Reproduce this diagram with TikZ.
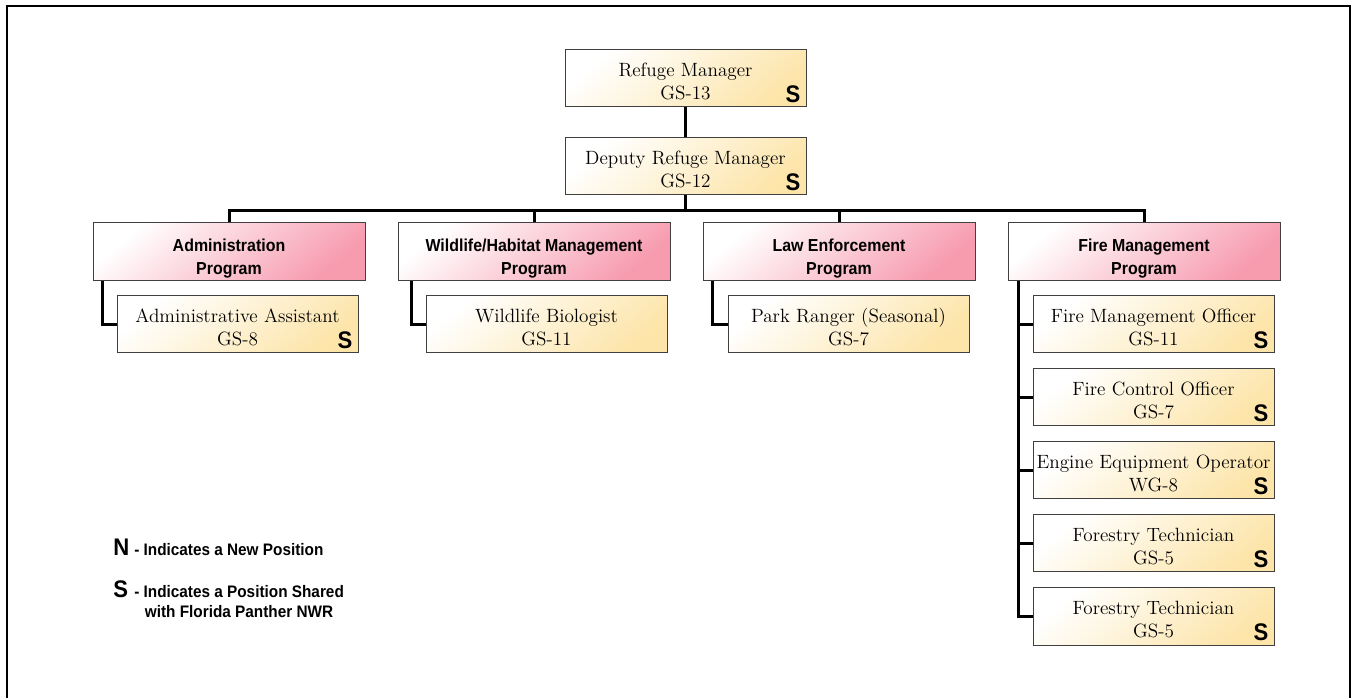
\documentclass[tikz,border=0pt]{standalone}
\usepackage{fontspec}
\usepackage{tikz}
\usetikzlibrary{calc,positioning}
\newfontfamily\condsans[FakeStretch=0.92]{Liberation Sans}
\definecolor{postyellow}{RGB}{253,229,170}
\definecolor{progpink}{RGB}{247,155,175}
\tikzset{
    post/.style={draw=black!75, line width=0.75pt, inner sep=0pt,
        minimum width=180.75pt, minimum height=42.75pt, align=center,
        text height=31.5pt, text depth=0pt,
        top color=white, bottom color=postyellow, shading angle=40,
        font=\fontsize{14.4}{17.25}\selectfont},
    program/.style={post, minimum width=204pt, minimum height=43.5pt,
        text height=34pt, text depth=0pt,
        top color=white, bottom color=progpink, shading angle=40,
        font=\condsans\bfseries\fontsize{13}{17.25}\selectfont},
    conn/.style={line width=2.25pt, black},
    smark/.style={inner sep=0pt, font=\condsans\bfseries\fontsize{18}{18}\selectfont},
    keytext/.style={inner sep=0pt, align=left, font=\condsans\bfseries\fontsize{12.5}{15}\selectfont},
}
\begin{document}
\begin{tikzpicture}[x=0.75pt, y=-0.75pt]
        \useasboundingbox (0,0) rectangle (1354,698);
        \draw[line width=1.5pt] (7,698) -- (7,6) -- (1350,6) -- (1350,698);
        % top of the chart
        \node[post] (rm) at (685.5,78.5) {Refuge Manager\\GS-13};
        \node[post] (dm) [below=22.5pt of rm] {Deputy Refuge Manager\\GS-12};
        \coordinate (bus) at ($(dm.south)+(0,15)$);
        % programs
        \node[program] (adm) at (229,252) {Administration\\Program};
        \node[program] (wild) [right=24pt of adm] {Wildlife/Habitat Management\\Program};
        \node[program] (law) [right=24pt of wild] {Law Enforcement\\Program};
        \node[program] (fire) [right=24pt of law] {Fire Management\\Program};
        % positions
        \node[post] (aa) [below right=10.5pt and 18pt of adm.south west] {Administrative Assistant\\GS-8};
        \node[post] (wb) [below right=10.5pt and 21pt of wild.south west] {Wildlife Biologist\\GS-11};
        \node[post] (pr) [below right=10.5pt and 18.75pt of law.south west] {Park Ranger (Seasonal)\\GS-7};
        \node[post] (fo1) [below right=10.5pt and 18.75pt of fire.south west] {Fire Management Officer\\GS-11};
        \node[post] (fo2) [below=11.25pt of fo1] {Fire Control Officer\\GS-7};
        \node[post] (fo3) [below=11.25pt of fo2] {Engine Equipment Operator\\WG-8};
        \node[post] (fo4) [below=11.25pt of fo3] {Forestry Technician\\GS-5};
        \node[post] (fo5) [below=11.25pt of fo4] {Forestry Technician\\GS-5};
        % shared marks
        \foreach \n in {rm,dm,aa,fo1,fo2,fo3,fo4,fo5}
            \node[smark, anchor=base east] (s\n) at ($(\n.south east)+(-6,-5)$) {S};
        % connectors
        \draw[conn] (rm) -- (dm);
        \draw[conn] (dm) -- (bus);
        \draw[conn] (adm.north) |- (bus) -| (fire.north);
        \draw[conn] (wild.north) -- (wild.north |- bus);
        \draw[conn] (law.north) -- (law.north |- bus);
        \draw[conn] ($(adm.south west)+(10,0)$) |- (aa.west);
        \draw[conn] ($(wild.south west)+(14,0)$) |- (wb.west);
        \draw[conn] ($(law.south west)+(10,0)$) |- (pr.west);
        \coordinate (firestem) at ($(fire.south west)+(11,0)$);
        \draw[conn] (firestem) |- (fo5.west);
        \foreach \n in {fo1,fo2,fo3,fo4}
            \draw[conn] (\n.west) -- (\n.west -| firestem);
        % key
        \node[smark, anchor=base west] (keyn) at (113,556) {N};
        \node[keytext, anchor=base west] (keyntext) at (134,556) {- Indicates a New Position};
        \node[smark, anchor=base west] (keys) at (113,597) {S};
        \node[keytext, anchor=base west] (keystext) at (134,617) {- Indicates a Position Shared\\\hspace*{8pt}with Florida Panther NWR};
\end{tikzpicture}
\end{document}
